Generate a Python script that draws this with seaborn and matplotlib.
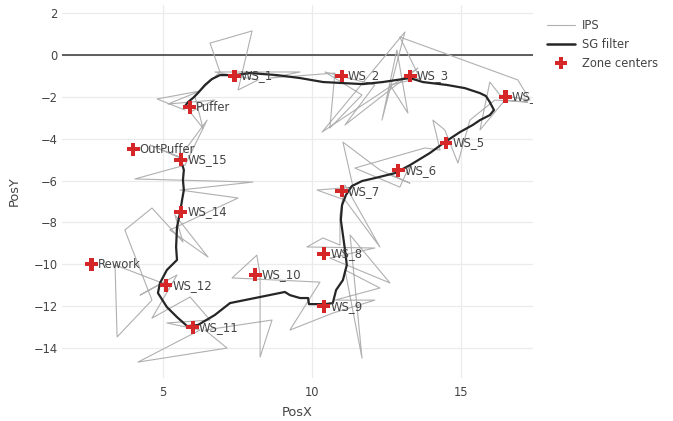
import pandas as pd
import matplotlib
matplotlib.use("Agg")
import matplotlib.pyplot as plt
import seaborn as sns
from matplotlib.lines import Line2D

# zone centers
zone_names = ["Puffer", "OutPuffer", "Rework", "WS_1", "WS_2", "WS_3", "WS_4", "WS_5",
              "WS_6", "WS_7", "WS_8", "WS_9", "WS_10", "WS_11", "WS_12", "WS_14", "WS_15"]
zone_x = [5.9, 4.0, 2.6, 7.4, 11.0, 13.3, 16.5, 14.5, 12.9, 11.0, 10.4, 10.4, 8.1, 6.0, 5.1, 5.6, 5.6]
zone_y = [-2.5, -4.5, -10.0, -1.0, -1.0, -1.0, -2.0, -4.2, -5.5, -6.5, -9.5, -12.0, -10.5, -13.0, -11.0, -7.5, -5.0]

# raw IPS positions
ips_x = [5.74, 4.80, 6.24, 5.17, 6.74, 5.91, 6.34, 6.07, 6.91, 6.58, 7.99, 7.52, 8.19, 6.74, 9.60,
         8.59, 10.77, 10.60, 11.68, 10.44, 12.11, 11.11, 13.56, 10.34, 13.12, 12.35, 12.85, 13.22,
         12.62, 13.62, 12.95, 16.91, 17.32, 16.31, 15.97, 15.64, 16.48, 17.25, 16.14, 15.30, 14.90,
         14.46, 14.06, 14.30, 13.79, 11.44, 12.95, 13.29, 12.62, 13.29, 12.28, 11.04, 11.38, 10.17,
         11.11, 12.28, 11.11, 10.94, 10.94, 10.37, 9.83, 12.11, 10.60, 12.62, 11.28, 11.68, 11.11,
         12.28, 10.77, 12.11, 10.70, 9.26, 10.27, 7.32, 8.15, 8.26, 8.26, 8.66, 6.41, 7.15, 4.16,
         6.24, 5.13, 6.58, 5.91, 4.63, 5.47, 4.23, 4.97, 3.39, 3.46, 4.63, 3.72, 4.63, 5.67, 5.40,
         6.51, 5.23, 7.52, 5.57, 8.02, 4.06, 5.74, 6.48, 5.57, 4.56, 5.74]
ips_y = [-2.63, -2.10, -1.72, -2.34, -2.15, -2.72, -3.49, -1.96, -0.81, 0.57, 1.15, -1.67, -1.19,
         -0.81, -0.81, -1.10, -0.86, -3.49, -1.91, -0.81, -1.43, -3.34, -0.62, -3.68, 1.10, -3.11,
         0.24, -2.77, -1.43, -1.10, 0.86, -1.19, -2.15, -1.91, -1.29, -3.58, -2.15, -2.25, -2.15,
         -3.11, -5.16, -3.58, -3.11, -4.54, -4.44, -5.40, -6.31, -5.26, -5.73, -6.12, -5.49, -4.16,
         -6.31, -6.45, -6.93, -9.17, -6.21, -7.64, -9.08, -8.74, -9.17, -9.22, -9.70, -10.89, -8.60,
         -14.48, -10.27, -11.13, -11.71, -11.71, -12.33, -13.14, -10.85, -10.65, -9.56, -10.51,
         -14.43, -12.66, -13.14, -14.00, -14.67, -13.14, -12.80, -12.66, -11.56, -12.57, -10.51,
         -11.47, -10.89, -10.03, -13.47, -11.71, -8.36, -7.31, -8.93, -7.64, -9.65, -8.36, -6.83,
         -6.45, -6.07, -5.92, -5.26, -3.11, -4.87, -4.30, -5.02]

# Savitzky-Golay smoothed track
sg_x = [5.60, 5.70, 5.67, 5.70, 5.64, 5.57, 5.47, 5.44, 5.47, 5.13, 4.90, 4.83, 5.13, 5.47, 5.81,
        6.17, 6.74, 7.25, 8.26, 9.09, 9.26, 9.60, 9.87, 9.90, 10.44, 10.70, 10.81, 11.04, 11.17,
        11.11, 11.04, 10.97, 11.01, 11.14, 11.34, 11.68, 12.11, 12.79, 13.29, 13.96, 14.46, 14.97,
        15.40, 15.64, 15.97, 16.11, 15.97, 15.84, 15.64, 15.13, 14.53, 13.72, 13.29, 12.85, 12.38,
        11.71, 11.04, 10.37, 9.60, 8.83, 7.92, 7.42, 6.91, 6.64, 6.41, 6.17, 6.01, 5.84, 5.74]
sg_y = [-5.02, -5.49, -5.97, -6.45, -6.93, -7.55, -8.22, -9.17, -9.79, -10.27, -10.89, -11.37,
        -12.04, -12.52, -12.95, -12.90, -12.42, -11.85, -11.56, -11.32, -11.47, -11.61, -11.61,
        -11.90, -11.90, -11.85, -11.23, -10.75, -10.03, -9.32, -8.60, -7.88, -7.17, -6.69, -6.26,
        -6.02, -5.88, -5.64, -5.26, -4.68, -4.16, -3.68, -3.34, -3.11, -2.87, -2.63, -2.25, -1.96,
        -1.82, -1.58, -1.43, -1.29, -1.10, -1.19, -1.29, -1.39, -1.34, -1.29, -1.10, -0.96, -0.86,
        -0.96, -0.96, -1.15, -1.43, -1.82, -2.05, -2.25, -2.44]

sns.set_theme(style="white")
plt.rcParams['font.family'] = ['DejaVu Sans']

ips = pd.DataFrame({"x": ips_x, "y": ips_y})
sg = pd.DataFrame({"x": sg_x, "y": sg_y})
zones = pd.DataFrame({"name": zone_names, "x": zone_x, "y": zone_y})

TXT = "#444444"
fig = plt.figure(figsize=(6.73, 4.21), dpi=100)
ax = fig.add_axes([62 / 673, 1 - 378 / 421, 471 / 673, 373 / 421])

ax.axhline(0, color="#444444", lw=1.2, zorder=1)
sns.lineplot(data=ips, x="x", y="y", sort=False, estimator=None, color="#b0b0b0", lw=0.8, ax=ax, zorder=2)
sns.lineplot(data=sg, x="x", y="y", sort=False, estimator=None, color="#262626", lw=1.6, ax=ax, zorder=3)
sns.scatterplot(data=zones, x="x", y="y", marker="P", s=85, color="#d62728", edgecolor="none", ax=ax, zorder=4)
for _, r in zones.iterrows():
    ax.annotate(r["name"], (r["x"], r["y"]), xytext=(4.5, 0), textcoords="offset points",
                va="center", ha="left", fontsize=8.4, color=TXT, zorder=5, annotation_clip=False, clip_on=True)

ax.set_xlim(1.61, 17.42)
ax.set_ylim(-15.43, 2.39)
ax.set_xticks([5, 10, 15])
ax.set_yticks(list(range(-14, 3, 2)))
ax.grid(True, color="#ebebeb", lw=0.9)
ax.set_axisbelow(True)
for s in ax.spines.values():
    s.set_visible(False)
ax.tick_params(axis="both", length=0, labelsize=8.3, labelcolor=TXT)
ax.tick_params(axis="x", pad=6)
ax.tick_params(axis="y", pad=3)
ax.set_xlabel("PosX", fontsize=9.3, color=TXT, labelpad=5)
ax.set_ylabel("PosY", fontsize=9.3, color=TXT, labelpad=9)

handles = [Line2D([], [], color="#b0b0b0", lw=0.8),
           Line2D([], [], color="#262626", lw=1.8),
           Line2D([], [], color="#d62728", marker="P", markersize=8, lw=0, markeredgewidth=0)]
ax.legend(handles, ["IPS", "SG filter", "Zone centers"], loc="upper left", bbox_to_anchor=(1.02, 0.974),
          frameon=False, fontsize=8.3, handlelength=2.4, labelcolor=TXT, borderaxespad=0, handletextpad=0.6)

fig.savefig("out.png", dpi=100)
